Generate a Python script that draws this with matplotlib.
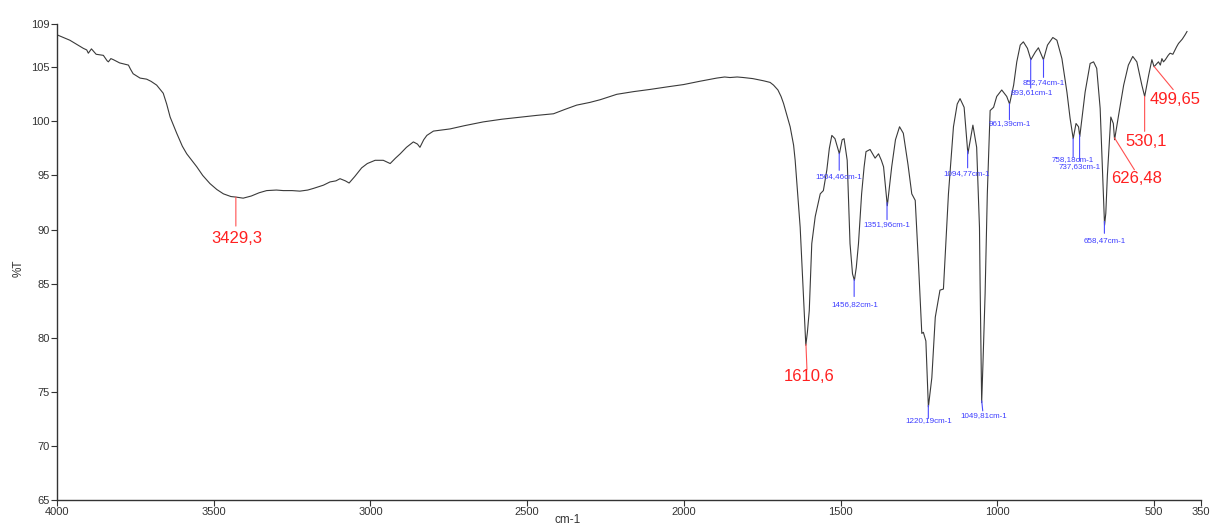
import matplotlib
matplotlib.use('Agg')

import matplotlib.pyplot as plt
import numpy as np

plt.rcParams['font.family'] = ['Liberation Sans', 'DejaVu Sans']

# --- spectrum (wavenumber cm-1, %T) ---
wavenumber = [4000, 3959, 3930, 3916, 3905, 3900, 3890, 3875, 3852, 3840, 3836, 3828,
              3820, 3800, 3772, 3765, 3757, 3735, 3714, 3700, 3682, 3661, 3650, 3639,
              3618, 3600, 3586, 3570, 3554, 3535, 3512, 3490, 3469, 3445, 3429, 3406,
              3380, 3355, 3331, 3300, 3278, 3250, 3225, 3200, 3182, 3150, 3129, 3110,
              3097, 3080, 3068, 3050, 3028, 3010, 2985, 2959, 2937, 2920, 2905, 2885,
              2863, 2850, 2842, 2830, 2820, 2799, 2746, 2700, 2640, 2580, 2533, 2470,
              2416, 2380, 2342, 2300, 2267, 2214, 2160, 2108, 2050, 2001, 1950, 1895,
              1870, 1853, 1830, 1810, 1780, 1746, 1725, 1714, 1700, 1690, 1682, 1661,
              1650, 1645, 1629, 1619, 1614, 1611, 1606, 1600, 1592, 1581, 1565, 1555,
              1544, 1536, 1528, 1518, 1504, 1495, 1489, 1479, 1470, 1462, 1456, 1450,
              1443, 1433, 1425, 1419, 1406, 1390, 1379, 1370, 1363, 1351, 1337, 1325,
              1312, 1300, 1285, 1273, 1262, 1252, 1241, 1236, 1228, 1220, 1209, 1198,
              1183, 1172, 1156, 1140, 1128, 1119, 1106, 1094, 1078, 1066, 1057, 1055,
              1050, 1046, 1039, 1032, 1023, 1012, 1002, 986, 970, 961, 948, 938,
              927, 917, 904, 893, 879, 869, 853, 840, 823, 810, 794, 778,
              768, 758, 749, 741, 737, 728, 720, 704, 693, 683, 672, 664,
              658, 654, 649, 638, 630, 626, 613, 597, 582, 568, 555, 539,
              530, 517, 507, 500, 486, 480, 475, 470, 464, 455, 449, 440,
              433, 428, 422, 410, 401, 395]
transmittance = [108.0, 107.5, 107.0, 106.75, 106.6, 106.3, 106.7, 106.2, 106.1, 105.6, 105.5, 105.8,
                 105.7, 105.4, 105.2, 104.8, 104.4, 104.0, 103.9, 103.7, 103.35, 102.6, 101.6, 100.4,
                 98.9, 97.7, 97.0, 96.4, 95.8, 95.0, 94.25, 93.7, 93.3, 93.05, 93.0, 92.9,
                 93.1, 93.4, 93.6, 93.65, 93.6, 93.6, 93.55, 93.65, 93.8, 94.1, 94.4, 94.5,
                 94.7, 94.5, 94.3, 94.9, 95.7, 96.1, 96.4, 96.4, 96.1, 96.6, 97.0, 97.6,
                 98.1, 97.9, 97.6, 98.3, 98.7, 99.1, 99.3, 99.6, 99.95, 100.2, 100.35, 100.55,
                 100.7, 101.1, 101.5, 101.75, 102.0, 102.5, 102.75, 102.95, 103.2, 103.4, 103.7, 104.0,
                 104.1, 104.05, 104.1, 104.05, 103.95, 103.75, 103.6, 103.35, 102.9, 102.3, 101.65, 99.5,
                 97.8, 96.4, 90.2, 84.1, 81.0, 79.3, 80.5, 82.5, 88.7, 91.2, 93.3, 93.6,
                 95.5, 97.5, 98.7, 98.4, 97.0, 98.3, 98.4, 96.4, 88.7, 85.9, 85.3, 86.5,
                 88.7, 93.3, 95.8, 97.2, 97.4, 96.6, 97.0, 96.4, 95.8, 92.2, 95.8, 98.3,
                 99.5, 98.9, 96.0, 93.3, 92.7, 87.1, 80.4, 80.5, 79.7, 73.6, 76.3, 81.9,
                 84.4, 84.5, 93.3, 99.5, 101.6, 102.1, 101.3, 97.0, 99.65, 97.6, 90.2, 85.0,
                 74.0, 77.5, 84.1, 93.3, 101.0, 101.3, 102.3, 102.9, 102.3, 101.6, 103.35, 105.5,
                 107.05, 107.35, 106.75, 105.7, 106.4, 106.8, 105.7, 107.05, 107.75, 107.5, 105.8, 102.7,
                 100.3, 98.4, 99.8, 99.5, 98.6, 100.8, 102.7, 105.35, 105.5, 104.9, 101.2, 95.0,
                 90.4, 91.5, 95.0, 100.4, 99.8, 98.3, 100.6, 103.35, 105.2, 106.0, 105.5, 103.35,
                 102.3, 104.3, 105.7, 105.05, 105.5, 105.2, 105.8, 105.5, 105.7, 106.1, 106.3, 106.2,
                 106.6, 106.9, 107.2, 107.6, 108.0, 108.3]

# --- peak labels ---
big_peaks  = [3429.3, 1610.6, 626.48, 530.1, 499.65]
big_labels = ['3429,3', '1610,6', '626,48', '530,1', '499,65']
small_peaks  = [1504.46, 1456.82, 1351.96, 1220.19, 1094.77, 1049.81,
                961.39, 893.61, 852.74, 758.18, 737.63, 658.47]
small_labels = ['1504,46cm-1', '1456,82cm-1', '1351,96cm-1', '1220,19cm-1', '1094,77cm-1',
                '1049,81cm-1', '961,39cm-1', '893,61cm-1', '852,74cm-1', '758,18cm-1',
                '737,63cm-1', '658,47cm-1']

xticks = [4000, 3500, 3000, 2500, 2000, 1500, 1000, 500, 350]
yticks = [65, 70, 75, 80, 85, 90, 95, 100, 105, 109]

# label placement: (line end dx, dy, text dx, dy) in pixels from the peak
big_off = [(0, -29, 1, -41), (1, -25, 3, -32), (20, -32, 22, -41), (0, -35, 2, -45), (19, -23, 21, -33)]
small_off = [(0, -17, 0, -23), (0, -17, 1, -25), (0, -17, 0, -22), (0, -13, 0, -15),
             (0, -17, -1, -23), (1, -10, 2, -15), (0, -16, 0, -20), (0, -29, 1, -33),
             (0, -18, 0, -23), (0, -19, 0, -21), (0, -26, 0, -32), (0, -12, 0, -19)]

wn = np.array(wavenumber)
tr = np.array(transmittance)

fig = plt.figure(figsize=(12.12, 5.27), dpi=100)
ax = fig.add_axes([0.047, 0.0512, 0.944, 0.9033])
ax.plot(wn, tr, color='#3a3a3a', linewidth=0.8)

def peak_val(p):
    return np.interp(p, wn[::-1], tr[::-1])

for p, lab, (lx, ly, tx, ty) in zip(big_peaks, big_labels, big_off):
    t = peak_val(p)
    ax.annotate('', xy=(p, t), xytext=(lx, ly), textcoords='offset pixels',
                arrowprops=dict(arrowstyle='-', color='#ff5050', lw=0.8, shrinkA=0, shrinkB=0))
    ax.annotate(lab, xy=(p, t), xytext=(tx, ty), textcoords='offset pixels',
                ha='center', va='center', color='#ff2020', fontsize=12)

for p, lab, (lx, ly, tx, ty) in zip(small_peaks, small_labels, small_off):
    t = peak_val(p)
    ax.annotate('', xy=(p, t), xytext=(lx, ly), textcoords='offset pixels',
                arrowprops=dict(arrowstyle='-', color='#4a4aff', lw=0.8, shrinkA=0, shrinkB=0))
    ax.annotate(lab, xy=(p, t), xytext=(tx, ty), textcoords='offset pixels',
                ha='center', va='center', color='#3c3cff', fontsize=5.8)

ax.set_xlim(4000, 350)
ax.set_ylim(65, 109)
ax.set_xticks(xticks)
ax.set_yticks(yticks)
ax.tick_params(direction='out', length=4, width=0.8, labelsize=8, colors='#333333', pad=1)
for s in ['top', 'right']:
    ax.spines[s].set_visible(False)
for s in ['left', 'bottom']:
    ax.spines[s].set_color('#333333')
    ax.spines[s].set_linewidth(1.0)
ax.set_xlabel('cm-1', fontsize=8.5, color='#333333')
ax.set_ylabel('%T', fontsize=8.5, color='#333333')
ax.xaxis.set_label_coords(0.446, -0.029)
ax.yaxis.set_label_coords(-0.028, 0.487)

plt.savefig('out.png', dpi=100)
